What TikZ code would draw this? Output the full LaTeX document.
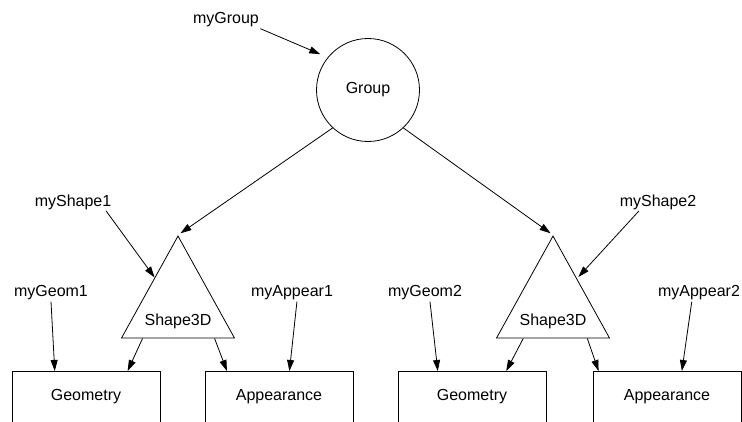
\documentclass[tikz,border=0pt]{standalone}
\usepackage{fontspec}
\setmainfont{Liberation Sans}
\usetikzlibrary{shapes.geometric,arrows.meta,calc}

\begin{document}
\begin{tikzpicture}[x=1pt, y=-1pt, line width=0.8pt, >={Triangle[length=11pt,width=7pt]}]
        \tikzstyle{every node}=[font=\fontsize{16}{19}\selectfont]
        \tikzstyle{tag}=[inner sep=1pt]
        \tikzstyle{box}=[draw, anchor=north, minimum width=148pt, inner sep=0pt, text height=29pt, text depth=35pt]
        \tikzstyle{shape3d}=[draw, isosceles triangle, shape border rotate=90, isosceles triangle stretches, minimum width=113pt, minimum height=102pt, inner sep=0pt, anchor=apex]
        \useasboundingbox (0,0) rectangle (742,421);

        % scene graph nodes
        \node [draw, circle, minimum size=103pt, inner sep=0pt] (grp) at (368,90) {Group};
        \node [shape3d] (s1) at (178,235) {Shape3D};
        \node [shape3d] (s2) at (553,235) {Shape3D};
        \node [box] (g1) at (86,371) {Geometry};
        \node [box] (a1) at (279,371) {Appearance};
        \node [box] (g2) at (472,371) {Geometry};
        \node [box] (a2) at (667,371) {Appearance};

        % variable names
        \node [tag] (lGroup) at (226,20) {myGroup};
        \node [tag] (lShape1) at (73,202) {myShape1};
        \node [tag] (lShape2) at (658,202) {myShape2};
        \node [tag] (lGeom1) at (51,293) {myGeom1};
        \node [tag] (lAppear1) at (292,293) {myAppear1};
        \node [tag] (lGeom2) at (425,293) {myGeom2};
        \node [tag] (lAppear2) at (699,293) {myAppear2};

        % parent to child
        \draw [->, shorten >=3pt] (grp.-133) -- (s1.apex);
        \draw [->, shorten >=3pt] (grp.-47) -- (s2.apex);
        \draw [->] ($(s1.left corner)!0.19!(s1.right corner)$) -- ($(g1.north west)!0.78!(g1.north east)$);
        \draw [->] ($(s1.left corner)!0.82!(s1.right corner)$) -- ($(a1.north west)!0.15!(a1.north east)$);
        \draw [->] ($(s2.left corner)!0.24!(s2.right corner)$) -- ($(g2.north west)!0.73!(g2.north east)$);
        \draw [->] ($(s2.left corner)!0.80!(s2.right corner)$) -- ($(a2.north west)!0.04!(a2.north east)$);

        % names to objects
        \draw [->, shorten >=8pt] (lGroup.south east) -- (grp.141);
        \draw [->] (lShape1.-15) -- ($(s1.apex)!0.41!(s1.left corner)$);
        \draw [->, shorten >=2pt] (lShape2.-155) -- ($(s2.apex)!0.42!(s2.right corner)$);
        \draw [->] (lGeom1.south) -- ($(g1.north west)!0.29!(g1.north east)$);
        \draw [->] (lAppear1.-60) -- ($(a1.north west)!0.57!(a1.north east)$);
        \draw [->] (lGeom2.-60) -- ($(g2.north west)!0.27!(g2.north east)$);
        \draw [->] (lAppear2.-130) -- ($(a2.north west)!0.60!(a2.north east)$);
\end{tikzpicture}
\end{document}
